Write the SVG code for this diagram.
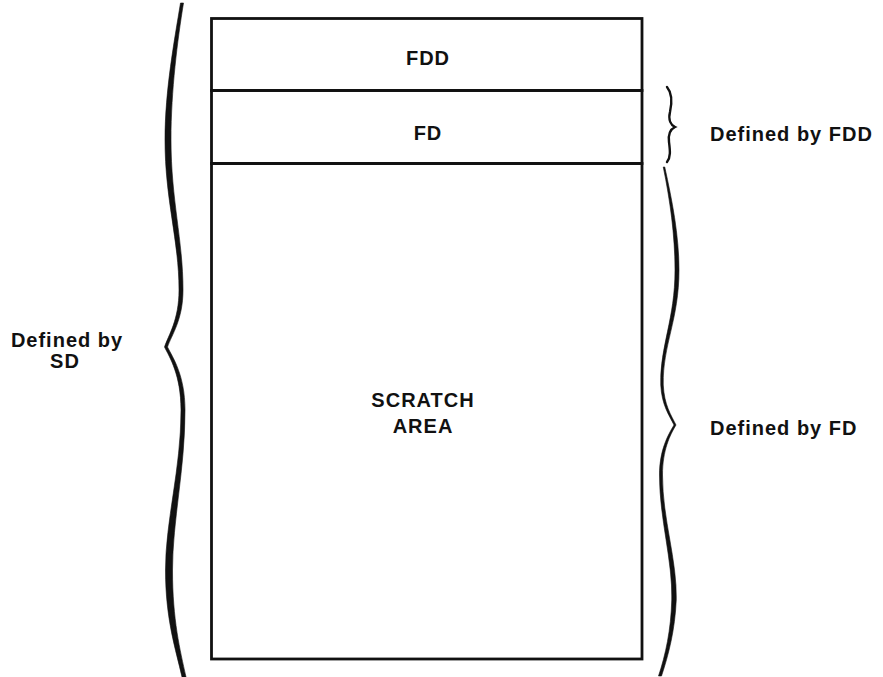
<svg xmlns="http://www.w3.org/2000/svg" width="883" height="677" viewBox="0 0 883 677">
<style>
.t{font-family:"Liberation Sans",Arial,sans-serif;font-weight:bold;font-size:20px;letter-spacing:1px;fill:#111}
.box{fill:none;stroke:#111;stroke-width:2.8}
.brace{fill:#111;stroke:#111;stroke-width:0.6;stroke-linejoin:round}
.bs{fill:none;stroke:#111;stroke-width:2.4;stroke-linecap:round}
</style>
<rect width="883" height="677" fill="#fff"/>
<g id="fdd">
<rect class="box" x="211.5" y="18.5" width="430.5" height="72"/>
<text class="t" x="428" y="65" text-anchor="middle">FDD</text>
</g>
<g id="fd">
<rect class="box" x="211.5" y="90.5" width="430.5" height="73"/>
<text class="t" x="428" y="140" text-anchor="middle">FD</text>
</g>
<g id="scratch">
<rect class="box" x="211.5" y="163.5" width="430.5" height="495.5"/>
<text class="t" x="423" y="407" text-anchor="middle">SCRATCH</text>
<text class="t" x="423" y="433" text-anchor="middle">AREA</text>
</g>
<g id="connectors">
<path class="brace" d="M180.5,3 C174.5,40 165,90 165,140 C165,200 179,240 179,290 C179,320 168.5,335 164.5,347 C169.5,357 181,375 181,410 C181,470 165.5,520 165.5,570 C165.5,620 176,650 182,677 L186,677 C180,650 172.5,620 172.5,570 C172.5,520 185,470 185,410 C185,375 172.5,357 167.5,347 C171.5,335 183,320 183,290 C183,240 171,200 171,140 C171,90 177.5,40 183.5,3 Z"/>
<path class="bs" d="M667,87 C672,93 672,103 670,112 C668,120 671,125 675,127 C671,129 668,134 669,142 C670,150 671,157 667,162"/>
<path class="brace" d="M663.25,167 C670,200 675,235 675,270 C675,320 660,345 660.75,385 C661.75,405 669,415 674,425 C668,435 659.5,450 659.5,475 C659.5,520 672.75,560 671.75,600 C671,630 665.5,655 658.5,676 L661.5,676 C668.5,655 675,630 676.25,600 C677.25,560 662.5,520 662.5,475 C662.5,450 670,435 676,425 C671,415 664.25,405 663.25,385 C662.5,345 679,320 679,270 C679,235 672,200 664.75,167 Z"/>
</g>
<g id="labels">
<text class="t" x="710" y="141">Defined by FDD</text>
<text class="t" x="710" y="435">Defined by FD</text>
<text class="t" x="67" y="347" text-anchor="middle">Defined by</text>
<text class="t" x="65" y="368" text-anchor="middle">SD</text>
</g>
</svg>
